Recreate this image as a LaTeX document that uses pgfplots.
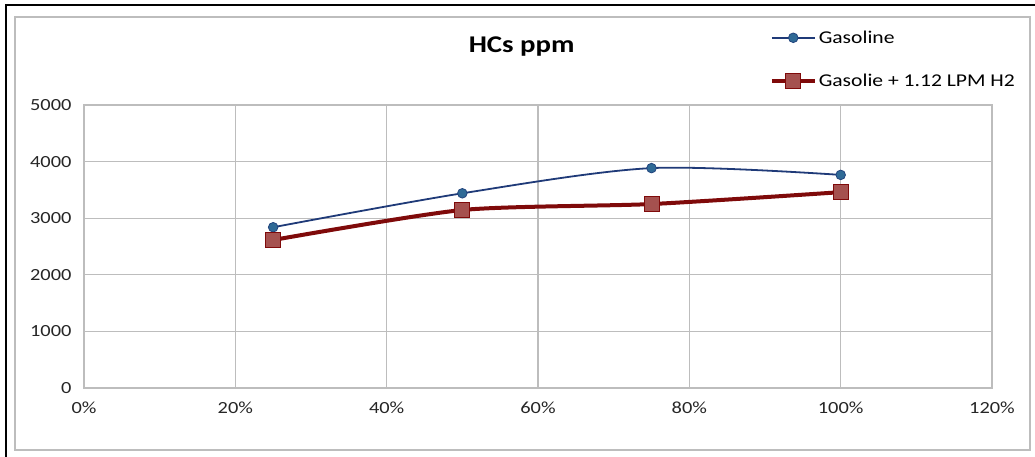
\documentclass[border=0pt]{standalone}
\usepackage{pgfplots}
\pgfplotsset{compat=1.18}
\usepackage{fontspec}
\setmainfont{Carlito}[FakeStretch=1.2]
\definecolor{gasline}{HTML}{1F3A78}
\definecolor{gasmark}{HTML}{2F6A96}
\definecolor{h2line}{HTML}{7F0A0A}
\definecolor{h2mark}{HTML}{A5514F}
\definecolor{gridc}{HTML}{BDBDBD}
\begin{document}
\begin{tikzpicture}
\path[use as bounding box] (0pt,0pt) rectangle (1035pt,457pt);
\draw[black, line width=1.2pt] (6pt,0pt) -- (6pt,452pt) -- (1035pt,452pt);
\draw[gridc, line width=1.5pt] (15pt,7pt) rectangle (1030pt,440pt);
\begin{axis}[
  at={(84pt,69pt)}, anchor=south west,
  width=908pt, height=283pt, scale only axis,
  xmin=0, xmax=120, ymin=0, ymax=5000,
  xtick={0,20,40,60,80,100,120},
  xticklabels={0\%,20\%,40\%,60\%,80\%,100\%,120\%},
  ytick={0,1000,2000,3000,4000,5000},
  /pgf/number format/set thousands separator={},
  tick style={draw=none},
  axis line style={gridc, line width=1.1pt},
  grid=major,
  major grid style={gridc, line width=1.1pt},
  ticklabel style={font=\fontsize{17}{19}\selectfont, text=black!85},
  /pgf/number format/assume math mode=true,
  yticklabel style={xshift=-9pt},
  xticklabel style={yshift=-10pt},
  title={HCs ppm},
  title style={font=\fontsize{24}{28}\selectfont\bfseries, at={(0.482,1.187)}, anchor=center},
  legend style={draw=none, fill=none, at={(0.755,1.27)}, anchor=north west,
    font=\fontsize{18}{20}\selectfont, row sep=25pt, inner sep=0pt,
    nodes={inner sep=2pt}},
  legend cell align=left,
  legend image code/.code={\draw[mark repeat=2,mark phase=2,#1] plot coordinates {(0pt,0pt) (21.5pt,0pt) (43pt,0pt)};},
]
\addplot[gasline, line width=1.8pt, smooth, tension=0.5, mark=*, mark size=4.8pt,
  mark options={fill=gasmark, draw=gasline!80!gasmark, line width=0.8pt}]
  coordinates {(25,2840) (50,3440) (75,3885) (100,3765)};
\addlegendentry{Gasoline}
\addplot[h2line, line width=4pt, smooth, tension=0.4, mark=square*, mark size=7.5pt,
  mark options={fill=h2mark, draw=h2line, line width=1pt}]
  coordinates {(25,2615) (50,3145) (75,3250) (100,3460)};
\addlegendentry{Gasolie + 1.12 LPM H2}
\end{axis}
\end{tikzpicture}
\end{document}
